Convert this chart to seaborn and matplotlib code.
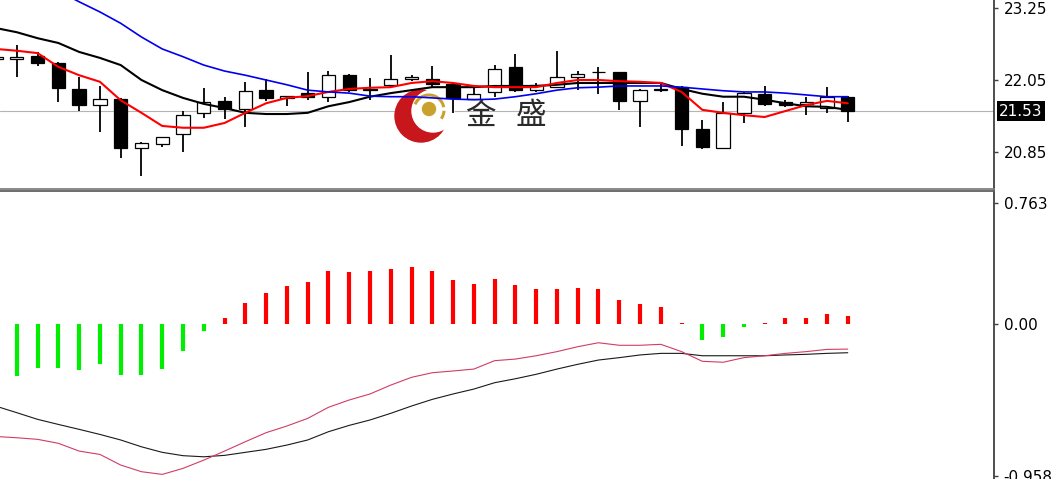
import numpy as np
import pandas as pd
import matplotlib
matplotlib.use("Agg")
import matplotlib.pyplot as plt
import matplotlib.transforms as mtrans
from matplotlib.patches import Ellipse, Arc
import seaborn as sns

# Candle data
opens = [22.40, 22.41, 22.45, 22.33, 21.90, 21.63, 21.73, 20.91, 20.98, 21.15, 21.50, 21.70, 21.56, 21.88,
         21.75, 21.83, 21.76, 22.13, 21.88, 21.97, 22.07, 22.07, 21.98, 21.73, 21.85, 22.27, 21.88, 21.93,
         22.10, 22.18, 22.18, 21.70, 21.90, 21.93, 21.23, 20.91, 21.50, 21.82, 21.68, 21.65, 21.58, 21.77]
closes = [22.43, 22.44, 22.33, 21.92, 21.63, 21.73, 20.91, 20.99, 21.10, 21.46, 21.68, 21.56, 21.87, 21.75,
          21.78, 21.76, 22.13, 21.88, 21.90, 22.07, 22.10, 21.98, 21.75, 21.82, 22.23, 21.88, 21.97, 22.10,
          22.15, 22.19, 21.70, 21.88, 21.89, 21.23, 20.93, 21.50, 21.83, 21.65, 21.63, 21.68, 21.77, 21.53]
highs = [22.45, 22.64, 22.52, 22.35, 22.10, 21.95, 21.75, 21.01, 21.10, 21.53, 21.92, 21.77, 22.02, 22.07,
         21.78, 22.18, 22.20, 22.15, 22.08, 22.47, 22.13, 22.28, 22.02, 21.95, 22.30, 22.49, 22.00, 22.54,
         22.20, 22.27, 22.19, 21.90, 22.00, 21.95, 21.38, 21.68, 21.85, 21.95, 21.72, 21.77, 21.93, 21.79]
lows = [22.38, 22.10, 22.28, 21.68, 21.53, 21.18, 20.74, 20.44, 20.93, 20.84, 21.41, 21.40, 21.26, 21.70,
        21.62, 21.71, 21.68, 21.85, 21.71, 21.93, 22.03, 21.93, 21.50, 21.72, 21.77, 21.85, 21.85, 21.92,
        21.88, 21.82, 21.55, 21.26, 21.85, 20.95, 20.90, 20.89, 21.33, 21.62, 21.60, 21.47, 21.50, 21.35]

# Moving average lines
ma_red = [22.57, 22.54, 22.50, 22.27, 22.13, 22.02, 21.71, 21.50, 21.28, 21.25, 21.25, 21.33, 21.50, 21.66,
          21.75, 21.78, 21.85, 21.90, 21.92, 21.93, 22.00, 22.03, 22.00, 21.95, 21.93, 21.93, 21.93, 22.00,
          22.05, 22.05, 22.03, 22.02, 22.00, 21.85, 21.55, 21.50, 21.46, 21.43, 21.53, 21.63, 21.70, 21.66]
ma_black = [22.92, 22.85, 22.75, 22.67, 22.52, 22.42, 22.30, 22.05, 21.88, 21.75, 21.65, 21.58, 21.50, 21.48,
            21.48, 21.50, 21.61, 21.68, 21.77, 21.83, 21.88, 21.93, 21.93, 21.93, 21.95, 21.95, 21.95, 21.97,
            22.00, 22.00, 22.00, 22.00, 22.00, 21.90, 21.82, 21.77, 21.77, 21.72, 21.66, 21.61, 21.60, 21.55]
ma_blue = [24.06, 23.89, 23.71, 23.54, 23.36, 23.19, 23.00, 22.77, 22.57, 22.44, 22.30, 22.20, 22.13, 22.05,
           21.97, 21.88, 21.85, 21.83, 21.78, 21.77, 21.77, 21.75, 21.73, 21.72, 21.73, 21.77, 21.82, 21.88,
           21.92, 21.93, 21.95, 21.95, 21.95, 21.93, 21.90, 21.87, 21.85, 21.85, 21.83, 21.80, 21.77, 21.77]

# MACD panel
hist = [-0.300, -0.326, -0.275, -0.275, -0.288, -0.252, -0.322, -0.322, -0.282, -0.168, -0.044, 0.036, 0.134,
        0.197, 0.240, 0.267, 0.332, 0.330, 0.332, 0.347, 0.359, 0.332, 0.277, 0.250, 0.284, 0.244, 0.223,
        0.223, 0.229, 0.223, 0.149, 0.128, 0.109, 0.004, -0.101, -0.082, -0.017, 0.008, 0.036, 0.036, 0.061, 0.050]
macd_black = [-0.518, -0.559, -0.601, -0.633, -0.664, -0.696, -0.731, -0.774, -0.809, -0.830, -0.837, -0.828,
              -0.809, -0.790, -0.763, -0.731, -0.679, -0.639, -0.605, -0.563, -0.517, -0.475, -0.441, -0.410,
              -0.370, -0.345, -0.317, -0.284, -0.254, -0.227, -0.212, -0.195, -0.185, -0.185, -0.200, -0.200,
              -0.200, -0.200, -0.195, -0.191, -0.185, -0.181]
macd_red = [-0.709, -0.717, -0.727, -0.752, -0.801, -0.822, -0.889, -0.931, -0.948, -0.910, -0.858, -0.801,
            -0.742, -0.685, -0.643, -0.595, -0.525, -0.479, -0.441, -0.385, -0.336, -0.307, -0.296, -0.284,
            -0.231, -0.221, -0.200, -0.174, -0.143, -0.118, -0.134, -0.134, -0.128, -0.174, -0.235, -0.241,
            -0.212, -0.200, -0.185, -0.174, -0.160, -0.158]

last_price = 21.53
price_ticks = [20.85, 22.05, 23.25]
macd_ticks = [-0.958, 0.0, 0.763]
macd_labels = ["-0.958", "0.00", "0.763"]

sns.set_style("white")
plt.rcParams["font.family"] = ["DejaVu Sans"]

W, H = 1052, 479
fig = plt.figure(figsize=(W / 100, H / 100), dpi=100)
ax1 = fig.add_axes([0, 1 - 189 / H, 994 / W, 189 / H])
ax2 = fig.add_axes([0, 0, 994 / W, 288 / H])

idx = np.arange(len(opens))

# Candles
o = np.array(opens)
c = np.array(closes)
ax1.vlines(idx, lows, highs, color="black", lw=1.3, zorder=3)
body_colors = ["white" if cc >= oo else "black" for oo, cc in zip(o, c)]
ax1.bar(idx, np.abs(c - o), bottom=np.minimum(o, c), width=0.64, color=body_colors,
        edgecolor="black", linewidth=0.9, zorder=4)

# Moving averages
ma_df = pd.DataFrame({
    "idx": np.tile(idx, 3),
    "value": ma_black + ma_red + ma_blue,
    "line": ["black"] * len(idx) + ["red"] * len(idx) + ["blue"] * len(idx),
})
sns.lineplot(data=ma_df, x="idx", y="value", hue="line",
             palette={"black": "black", "red": "#ff0000", "blue": "#0000ee"},
             size="line", sizes={"black": 1.5, "red": 1.5, "blue": 1.2},
             estimator=None, legend=False, ax=ax1, zorder=5)

ax1.axhline(last_price, color="#b4b4b4", lw=0.8, zorder=1)

# MACD histogram (drawn as fixed-width strokes) + lines
hcol = ["#ff0000" if v >= 0 else "#00ee00" for v in hist]
ax2.vlines(idx, 0, hist, colors=hcol, lw=3.0, zorder=2)
macd_df = pd.DataFrame({
    "idx": np.tile(idx, 2),
    "value": macd_black + macd_red,
    "line": ["main"] * len(idx) + ["signal"] * len(idx),
})
sns.lineplot(data=macd_df, x="idx", y="value", hue="line",
             palette={"main": "#1a1a1a", "signal": "#d23c64"},
             estimator=None, legend=False, lw=0.8, ax=ax2, zorder=3)

# Scales: candle spacing ~20.8 px, first candle partly off the left edge
xlim = (0.19, 48.04)
ax1.set_xlim(*xlim)
ax2.set_xlim(*xlim)
ax1.set_ylim(20.224, 23.39)
ax2.set_ylim(-0.977, 0.8386)

for ax in (ax1, ax2):
    ax.set_xlabel("")
    ax.set_ylabel("")
    ax.set_xticks([])
    ax.yaxis.tick_right()
    ax.tick_params(axis="y", direction="out", length=3, width=1, color="#404040",
                   labelsize=11, pad=4, labelcolor="black")
    ax.spines["left"].set_visible(False)
    ax.spines["right"].set_color("#404040")
    ax.spines["right"].set_linewidth(1.3)
    ax.set_facecolor("white")

ax1.spines["top"].set_visible(False)
ax1.spines["bottom"].set_color("#808080")
ax1.spines["bottom"].set_linewidth(1.3)
ax2.spines["bottom"].set_visible(False)
ax2.spines["top"].set_color("#606060")
ax2.spines["top"].set_linewidth(1.3)

ax1.set_yticks(price_ticks)
ax1.set_yticklabels([f"{v:.2f}" for v in price_ticks])
ax2.set_yticks(macd_ticks)
ax2.set_yticklabels(macd_labels)

# Current price label
trans = mtrans.blended_transform_factory(ax1.transAxes, ax1.transData)
ax1.text(1 + 5 / 994, last_price, f"{last_price:.2f}", transform=trans, color="white",
         fontsize=11, va="center", ha="left", clip_on=False,
         bbox=dict(boxstyle="square,pad=0.15", fc="black", ec="none"))

# Watermark logo
aw, ah = 994, 189
def circ(px, py, r, **kw):
    return Ellipse((px / aw, 1 - py / ah), 2 * r / aw, 2 * r / ah, transform=ax1.transAxes, **kw)

ax1.add_patch(circ(421, 116, 26, color="#c8161d", zorder=2))
ax1.add_patch(circ(433, 111, 21, color="white", zorder=2.1))
ax1.add_patch(circ(429, 109, 6.5, color="#c9a22e", zorder=2.2))
for t1, t2 in [(45, 115), (-75, -15)]:
    ax1.add_patch(Arc((429 / aw, 1 - 110 / ah), 30 / aw, 30 / ah, theta1=t1, theta2=t2,
                      transform=ax1.transAxes, color="#c9a22e", lw=2.2, zorder=2.2))
for ch, px in [("金", 480), ("盛", 531)]:
    ax1.text(px / aw, 1 - 116 / ah, ch, transform=ax1.transAxes, fontsize=22,
             family=["Noto Sans CJK SC", "DejaVu Sans"], color="#2a2a2a",
             ha="center", va="center", zorder=2.3)

fig.savefig("out.png", dpi=100)
